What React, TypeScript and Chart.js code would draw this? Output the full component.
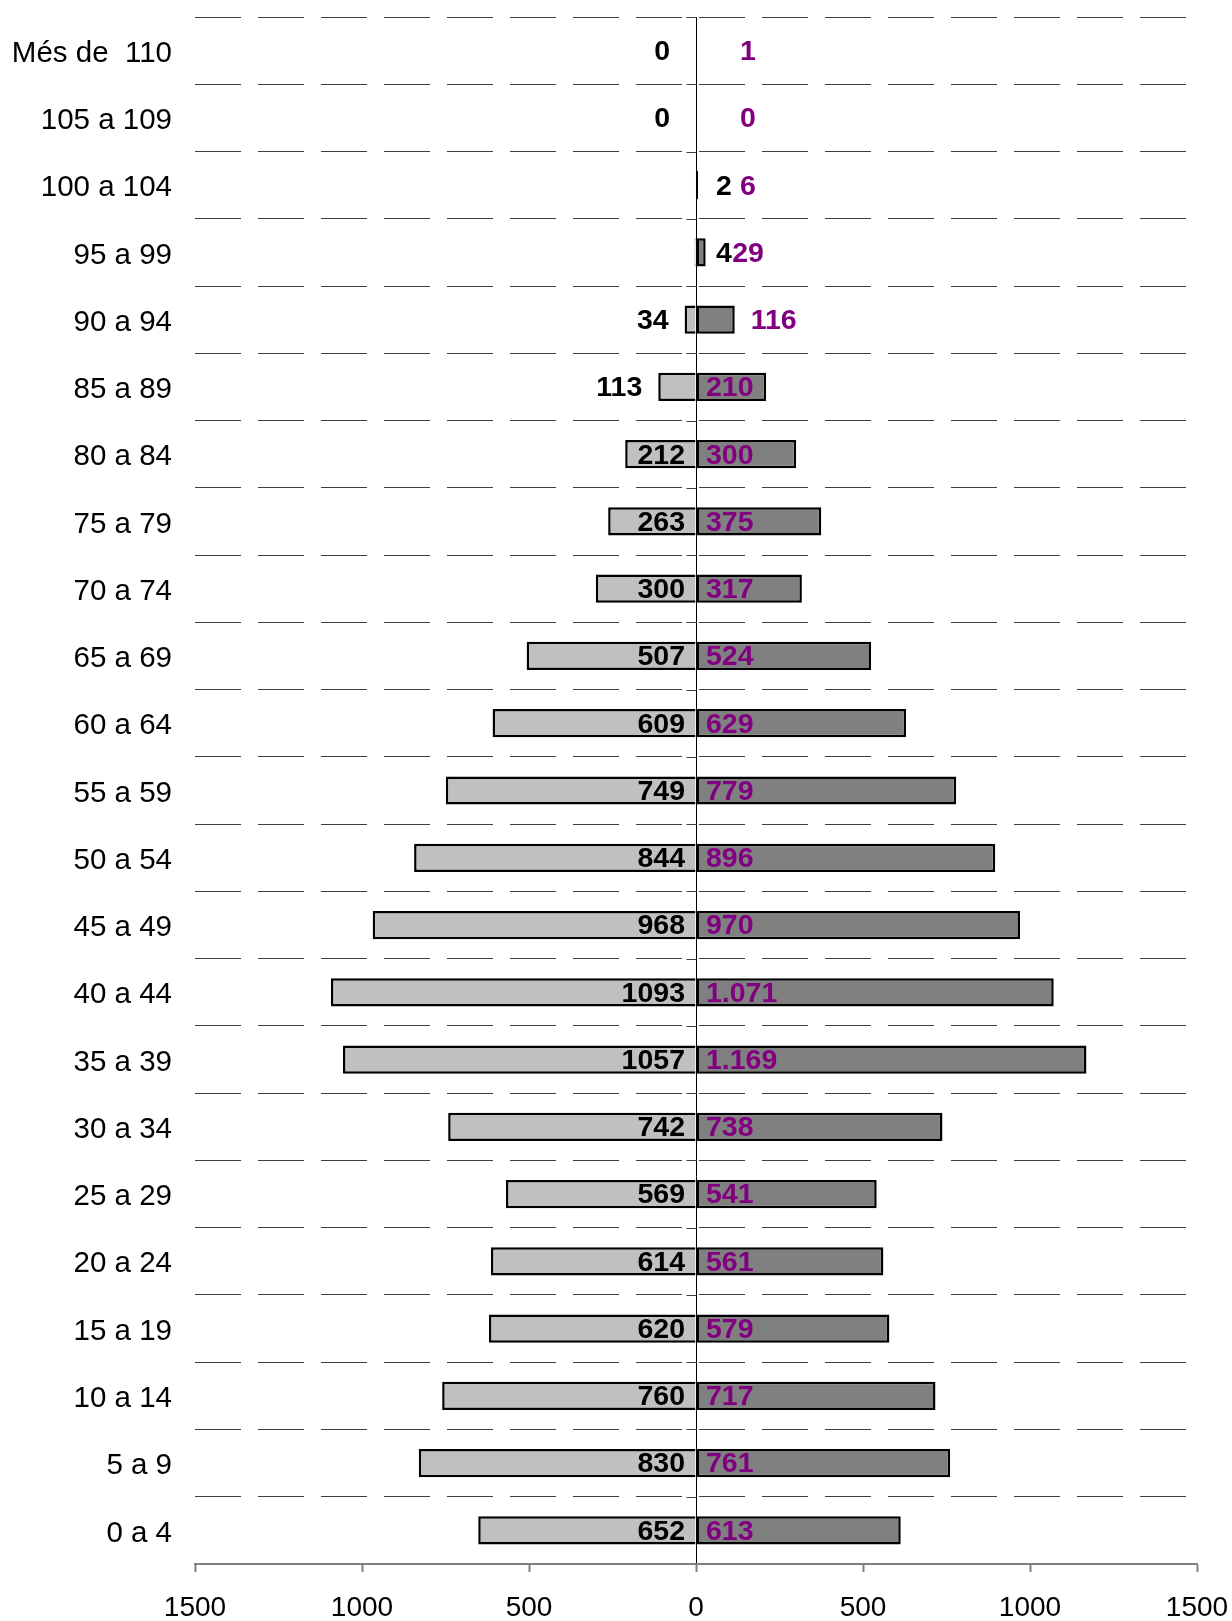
import { useEffect, useRef } from 'react';
import { Chart, registerables } from 'chart.js';

Chart.register(...registerables);

const ageGroups = [
  'Més de  110', '105 a 109', '100 a 104', '95 a 99', '90 a 94', '85 a 89',
  '80 a 84', '75 a 79', '70 a 74', '65 a 69', '60 a 64', '55 a 59',
  '50 a 54', '45 a 49', '40 a 44', '35 a 39', '30 a 34', '25 a 29',
  '20 a 24', '15 a 19', '10 a 14', '5 a 9', '0 a 4',
];

const leftValues = [
  0, 0, 2, 4, 34, 113, 212, 263, 300, 507, 609, 749,
  844, 968, 1093, 1057, 742, 569, 614, 620, 760, 830, 652,
];

const rightValues = [
  1, 0, 6, 29, 116, 210, 300, 375, 317, 524, 629, 779,
  896, 970, 1071, 1169, 738, 541, 561, 579, 717, 761, 613,
];

const axisMin = -1500;
const axisMax = 1500;
const axisStep = 500;

const FONT = '"Liberation Sans", Arial, Helvetica, sans-serif';
const PURPLE = '#800080';

const formatRight = (v: number) => {
  if (v >= 1000) {
    const th = Math.floor(v / 1000);
    const rest = String(v % 1000).padStart(3, '0');
    return th + '.' + rest;
  }
  return String(v);
};

const labelPlugin = {
  id: 'pyramidLabels',
  afterDatasetsDraw(chart: any) {
    const ctx = chart.ctx as CanvasRenderingContext2D;
    const xs = chart.scales.x;
    const zero = xs.getPixelForValue(0);
    const m0 = chart.getDatasetMeta(0);
    const m1 = chart.getDatasetMeta(1);
    ctx.save();
    ctx.font = 'bold 28.5px ' + FONT;
    ctx.textBaseline = 'middle';

    leftValues.forEach((v, i) => {
      const el = m0.data[i];
      if (!el) return;
      const text = String(v);
      const w = ctx.measureText(text).width;
      const len = Math.abs(zero - el.x);
      ctx.fillStyle = '#000';
      ctx.textAlign = 'right';
      let right: number;
      if (len >= w + 15) right = zero - 11;
      else if (v > 0 && len < 3) right = zero + 28 + w / 2;
      else right = Math.min(el.x - 16, zero - 26);
      ctx.fillText(text, right, el.y + 1.5);
    });

    rightValues.forEach((v, i) => {
      const el = m1.data[i];
      if (!el) return;
      const text = formatRight(v);
      const w = ctx.measureText(text).width;
      const len = Math.abs(el.x - zero);
      ctx.fillStyle = PURPLE;
      ctx.textAlign = 'left';
      let left: number;
      if (len >= w + 15) left = zero + 10;
      else left = Math.max(el.x + 16 + w / 2, zero + 52) - w / 2;
      ctx.fillText(text, left, el.y + 1.5);
    });
    ctx.restore();
  },
  afterDraw(chart: any) {
    const ctx = chart.ctx as CanvasRenderingContext2D;
    const xs = chart.scales.x;
    const ys = chart.scales.y;
    const zero = Math.round(xs.getPixelForValue(0)) + 0.5;
    const n = ageGroups.length;
    const band = (ys.bottom - ys.top) / n;
    ctx.save();
    ctx.strokeStyle = '#404040';
    ctx.lineWidth = 1;
    for (let k = 0; k < n; k++) {
      const y = Math.round(ys.top + k * band) + 0.5;
      ctx.beginPath();
      ctx.moveTo(zero - 10, y);
      ctx.lineTo(zero, y);
      ctx.stroke();
    }
    ctx.restore();
  },
};

export default function App() {
  const ref = useRef<HTMLCanvasElement | null>(null);

  useEffect(() => {
    document.body.style.margin = '0';
    const canvas = ref.current;
    if (!canvas) return;
    const chart = new Chart(canvas, {
      type: 'bar',
      data: {
        labels: ageGroups,
        datasets: [
          {
            label: 'left',
            data: leftValues.map((v) => -v),
            backgroundColor: '#C0C0C0',
            borderColor: '#000',
            borderWidth: 2.5,
            borderSkipped: 'start',
            barPercentage: 0.42,
            categoryPercentage: 1,
          },
          {
            label: 'right',
            data: rightValues,
            backgroundColor: '#808080',
            borderColor: '#000',
            borderWidth: 2.5,
            borderSkipped: false,
            barPercentage: 0.42,
            categoryPercentage: 1,
          },
        ],
      },
      options: {
        indexAxis: 'y',
        responsive: false,
        maintainAspectRatio: false,
        animation: false,
        devicePixelRatio: 1,
        layout: { padding: { top: 17, right: 35, left: 0, bottom: 0 } },
        plugins: {
          legend: { display: false },
          tooltip: { enabled: false },
          title: { display: false },
        },
        scales: {
          x: {
            type: 'linear',
            stacked: true,
            min: axisMin,
            max: axisMax,
            afterFit: (s: any) => {
              s.height = 57;
              s.paddingLeft = 0;
              s.paddingRight = 0;
            },
            ticks: {
              stepSize: axisStep,
              color: '#000',
              font: { family: FONT, size: 28 },
              padding: 19,
              maxRotation: 0,
              autoSkip: false,
              callback: (v: any) => String(Math.abs(Number(v))),
            },
            grid: {
              color: (c: any) => (c.tick && c.tick.value === 0 ? '#000' : 'rgba(0,0,0,0)'),
              lineWidth: 1,
              tickColor: '#808080',
              tickLength: 8,
              tickWidth: 2,
            },
            border: { display: true, color: '#808080', width: 2 },
          },
          y: {
            type: 'category',
            stacked: true,
            afterFit: (s: any) => {
              s.width = 195;
              s.paddingTop = 0;
              s.paddingBottom = 0;
            },
            ticks: {
              color: '#000',
              font: { family: FONT, size: 29.5 },
              padding: 23,
              labelOffset: 3,
              autoSkip: false,
            },
            grid: {
              offset: true,
              drawTicks: false,
              color: (c: any) => (c.type === 'tick' ? '#404040' : 'rgba(0,0,0,0)'),
              lineWidth: 1,
            },
            border: { display: false, dash: [46, 17], dashOffset: 0 },
          },
        },
      },
      plugins: [labelPlugin],
    });
    return () => chart.destroy();
  }, []);

  return (
    <div style={{ width: 1232, height: 1621 }}>
      <canvas ref={ref} width={1232} height={1621} style={{ display: 'block' }} />
    </div>
  );
}
